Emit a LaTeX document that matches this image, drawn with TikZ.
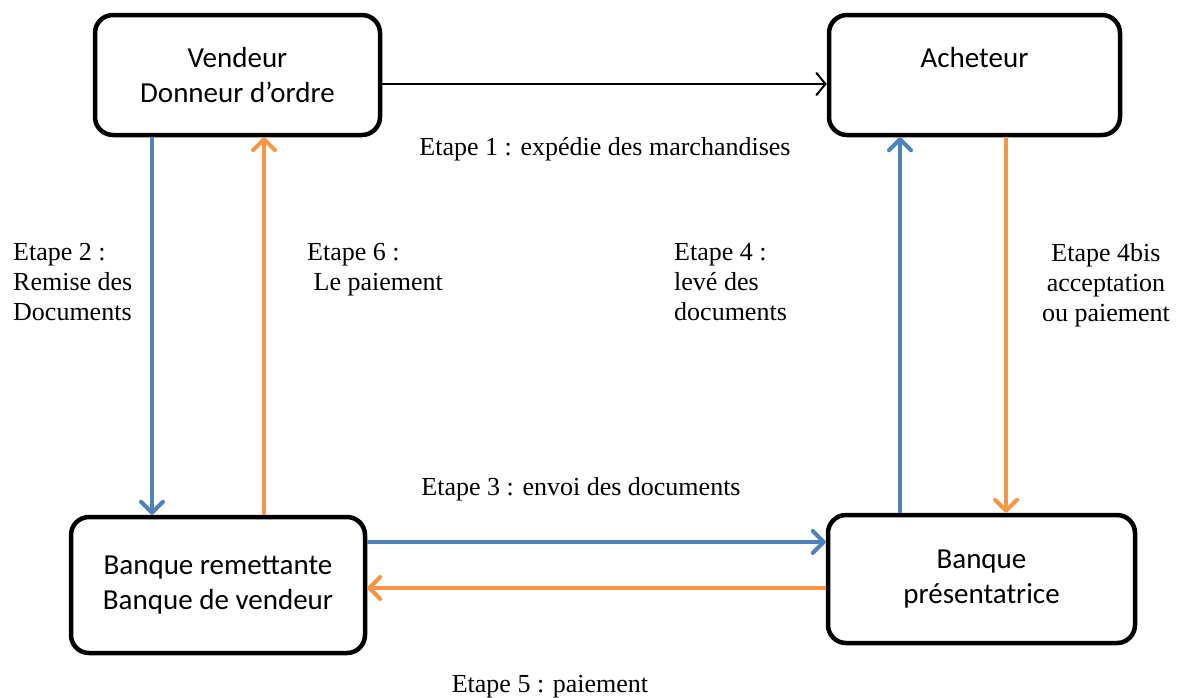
\documentclass[tikz,border=0pt]{standalone}
\usepackage{fontspec}
\setmainfont{Liberation Serif}
\newfontfamily\boxfont{Carlito}
\usetikzlibrary{arrows.meta}

\definecolor{docblue}{HTML}{4F81BD}
\definecolor{payorange}{HTML}{F79646}

\begin{document}
\begin{tikzpicture}[x=1pt,y=-1pt,
        box/.style={draw, line width=4.5pt, rounded corners=18pt, align=center,
            font=\boxfont\fontsize{29}{35}\selectfont},
        flow/.style={line width=4pt, -{Straight Barb[length=11pt,width=22pt,line width=4pt,line cap=round,line join=round]}},
        bluearrow/.style={flow, docblue},
        orangearrow/.style={flow, payorange},
        etape/.style={inner sep=0pt, font=\fontsize{26}{30}\selectfont}]

            \useasboundingbox (0,0) rectangle (1184,697);

            % Draw the four parties
            \node[box, minimum width=285pt, minimum height=120pt] (vendeur) at (237.5,75) {Vendeur\\Donneur d’ordre};
            \node[box, minimum width=291pt, minimum height=120pt] (acheteur) at (974.5,75) {Acheteur\\\phantom{D}};
            \node[box, minimum width=294pt, minimum height=136pt] (remettante) at (218,585) {Banque remettante\\Banque de vendeur};
            \node[box, minimum width=307pt, minimum height=128pt] (presentatrice) at (981.5,579) {Banque\\pr\'esentatrice};

            % Define the lanes of the arrows
            \coordinate (l1) at (0,84);
            \coordinate (l2) at (152,0);
            \coordinate (l3) at (0,542);
            \coordinate (l4) at (900,0);
            \coordinate (l4b) at (1006,0);
            \coordinate (l5) at (0,588);
            \coordinate (l6) at (264,0);

            % Draw the flows between the parties
            \draw[line width=2pt, -{Straight Barb[length=9pt,width=22pt,line width=2pt,line cap=round]}] (vendeur.east |- l1) -- (acheteur.west |- l1);
            \draw[bluearrow] (vendeur.south -| l2) -- (remettante.north -| l2);
            \draw[orangearrow] (remettante.north -| l6) -- (vendeur.south -| l6);
            \draw[bluearrow] (remettante.east |- l3) -- (presentatrice.west |- l3);
            \draw[bluearrow] (presentatrice.north -| l4) -- (acheteur.south -| l4);
            \draw[orangearrow] (acheteur.south -| l4b) -- (presentatrice.north -| l4b);
            \draw[orangearrow] (presentatrice.west |- l5) -- (remettante.east |- l5);

            % Label the steps
            \node[etape, anchor=base] (e1) at (605,155) {Etape 1 : exp\'edie des marchandises};
            \node[etape, anchor=north west, align=left] (e2) at (13,243) {Etape 2 :\\Remise des\\Documents};
            \node[etape, anchor=base] (e3) at (581,495) {Etape 3 : envoi des documents};
            \node[etape, anchor=north west, align=left] (e4) at (674,243) {Etape 4 :\\lev\'e des\\documents};
            \node[etape, anchor=north, align=center] (e4b) at (1106,243) {Etape 4bis\\acceptation\\ou paiement};
            \node[etape, anchor=base] (e5) at (550,692) {Etape 5 : paiement};
            \node[etape, anchor=north west, align=left] (e6) at (307,243) {Etape 6 :\\\ Le paiement};

        \end{tikzpicture}
\end{document}
